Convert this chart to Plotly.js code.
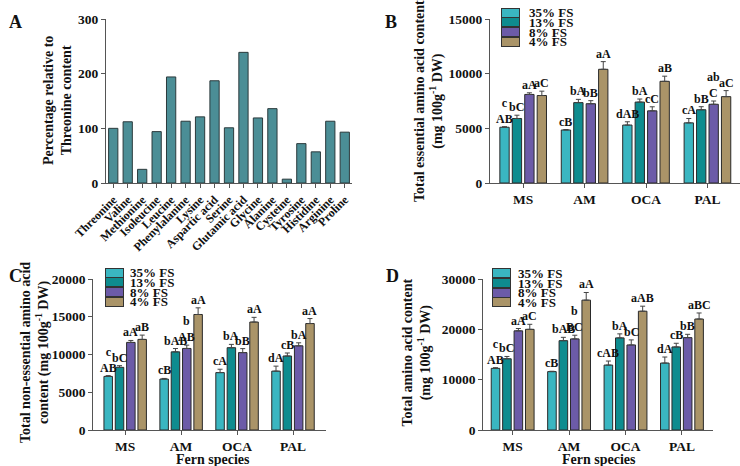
<!DOCTYPE html>
<html>
<head>
<meta charset="utf-8">
<script src="https://cdn.plot.ly/plotly-3.0.1.min.js"></script>
<style>html,body{margin:0;padding:0;background:#fff;}#chart{width:740px;height:466px;}</style>
</head>
<body>
<div id="chart"></div>
<script>
// ---------- Data ----------
const aminoAcids = ['Threonine','Valine','Methionine','Isoleucine','Leucine','Phenylalanine','Lysine',
  'Aspartic acid','Serine','Glutamic acid','Glycine','Alanine','Cysteine','Tyrosine','Histidine','Arginine','Proline'];
const pctOfThreonine = [100,112,25,94,194,113,121,187,101,239,119,136,7,72,57,113,93];

const species = ['MS','AM','OCA','PAL'];
const shadeLevels = ['35% FS','13% FS','8% FS','4% FS'];

// rows = shade level (35, 13, 8, 4 % FS); columns = species (MS, AM, OCA, PAL)
const essentialMean = [[5100,4850,5300,5500],[5900,7350,7400,6700],[8100,7250,6600,7200],[8000,10400,9300,7900]];
const essentialErr  = [[50,40,300,400],[300,300,280,280],[150,280,370,300],[400,700,470,550]];
const essentialLetters = [['c<br>AB','cB','dAB','cA'],['bC','bA','bA','bB'],['aA','bB','cC','ab<br>C'],['aC','aA','aB','aC']];

const nonEssentialMean = [[7100,6750,7600,7800],[8300,10350,10900,9800],[11600,10800,10250,11150],[12000,15300,14300,14100]];
const nonEssentialErr  = [[100,80,450,660],[220,440,440,400],[260,440,530,400],[570,880,620,660]];
const nonEssentialLetters = [['c<br>AB','cB','cA','dA'],['bC','bAB','bA','cB'],['aA','b<br>AB','bB','bA'],['aB','aA','aA','aA']];

const totalMean = [[12250,11600,12900,13300],[14150,17750,18300,16500],[19700,18100,16900,18350],[20000,25800,23600,22050]];
const totalErr  = [[130,70,800,1200],[460,660,800,730],[460,730,1000,660],[1000,1520,1000,1200]];
const totalLetters = [['c<br>AB','cB','cAB','dA'],['bC','bAB','bA','cB'],['aA','b<br>BC','bC','bB'],['aC','aA','aAB','aBC']];

// ---------- Style ----------
const shadeColors = ['#3ab6c1','#0e8c8f','#6c5ba8','#aa9468'];
const barA = '#4b8e96';
const serif = 'Liberation Serif, Times New Roman, serif';
const axisCol = '#555';
const W = 740, H = 466;
const px = v => v / W;
const py = v => 1 - v / H;

const bargap = 0.19, bargroupgap = 0.25;

const traces = [];
traces.push({
  type: 'bar', x: aminoAcids, y: pctOfThreonine, width: 0.64,
  marker: {color: barA, line: {color: '#2b3a3c', width: 1}},
  xaxis: 'x', yaxis: 'y', showlegend: false, hoverinfo: 'x+y'
});

const annotations = [];
function addPanel(ax, means, errs, letters) {
  const slot = (1 - bargap) / shadeLevels.length;
  shadeLevels.forEach((lvl, i) => {
    traces.push({
      type: 'bar', name: lvl, x: species, y: means[i],
      marker: {color: shadeColors[i], line: {color: '#2a2a2a', width: 1}},
      error_y: {type: 'data', symmetric: false, array: errs[i], arrayminus: errs[i].map(() => 0),
                color: '#444', thickness: 1, width: 2.5},
      xaxis: 'x' + ax, yaxis: 'y' + ax, showlegend: false
    });
    species.forEach((sp, j) => {
      annotations.push({
        xref: 'x' + ax, yref: 'y' + ax,
        x: j + (i - (shadeLevels.length - 1) / 2) * slot,
        y: means[i][j] + errs[i][j],
        text: letters[i][j], showarrow: false, yanchor: 'bottom', xanchor: 'center',
        font: {family: serif, size: 12, color: '#111', weight: 'bold'}, borderpad: 0
      });
    });
  });
}
addPanel(2, essentialMean, essentialErr, essentialLetters);
addPanel(3, nonEssentialMean, nonEssentialErr, nonEssentialLetters);
addPanel(4, totalMean, totalErr, totalLetters);

// custom compact legends
function addLegend(swatchX, textX, rowYs) {
  shadeLevels.forEach((lvl, i) => {
    annotations.push({xref: 'paper', yref: 'paper', x: px(swatchX), y: py(rowYs[i]), text: '&nbsp;&nbsp;&nbsp;',
      showarrow: false, width: 17, height: 8, bgcolor: shadeColors[i], bordercolor: '#333', borderwidth: 1,
      borderpad: 0, xanchor: 'center', yanchor: 'middle', font: {size: 6, color: shadeColors[i]}});
    annotations.push({xref: 'paper', yref: 'paper', x: px(textX), y: py(rowYs[i]), text: lvl,
      showarrow: false, xanchor: 'left', yanchor: 'middle',
      font: {family: serif, size: 13, color: '#111', weight: 'bold'}});
  });
}
addLegend(510.5, 527, [12.5, 22.3, 32.1, 41.9]);
addLegend(114, 128, [272.7, 282.4, 292.1, 301.8]);
addLegend(501, 516, [273.3, 283, 292.6, 302.2]);

// axis titles & panel letters
function txt(x, y, text, size, angle) {
  annotations.push({xref: 'paper', yref: 'paper', x: px(x), y: py(y), text: text, showarrow: false,
    textangle: angle || 0, xanchor: 'center', yanchor: 'middle',
    font: {family: serif, size: size, color: '#111', weight: 'bold'}});
}
txt(57, 101, 'Percentage relative to<br>Threonine content', 14, -90);
txt(429, 101, 'Total essential amino acid content<br>(mg 100g<sup>-1</sup> DW)', 14, -90);
txt(35, 353, 'Total non-essential amino acid<br>content (mg 100g<sup>-1</sup> DW)', 14, -90);
txt(416.5, 353, 'Total amino acid content<br>(mg 100g<sup>-1</sup> DW)', 14, -90);
txt(213, 459, 'Fern species', 14);
txt(599, 459, 'Fern species', 14);
txt(15, 22, 'A', 18);
txt(391, 22, 'B', 18);
txt(15, 276, 'C', 18);
txt(392, 276, 'D', 18);

function axisX(domain, range, tickfontSize, extra) {
  return Object.assign({domain: domain, range: range, showline: true, linecolor: axisCol, linewidth: 1,
    ticks: 'outside', ticklen: 4, tickwidth: 1, tickcolor: axisCol, showgrid: false, zeroline: false,
    tickfont: {family: serif, size: tickfontSize, color: '#111', weight: 'bold'}, fixedrange: true}, extra || {});
}
function axisY(domain, range, dtick, anchor) {
  return {domain: domain, range: range, dtick: dtick, tick0: 0, tickformat: 'd', anchor: anchor,
    showline: true, linecolor: axisCol, linewidth: 1, ticks: 'outside', ticklen: 4, tickwidth: 1,
    tickcolor: axisCol, showgrid: false, zeroline: false,
    tickfont: {family: serif, size: 13.5, color: '#111', weight: 'bold'}, fixedrange: true};
}

const yTop = [py(183), py(19)];
const yBot = [py(430), py(279)];

const layout = {
  width: W, height: H, margin: {l: 0, r: 0, t: 0, b: 0},
  paper_bgcolor: '#fff', plot_bgcolor: 'rgba(0,0,0,0)',
  barmode: 'group', bargap: bargap, bargroupgap: bargroupgap, showlegend: false,
  xaxis: axisX([px(106), px(352)], [-0.5, 16.5], 12, {tickangle: -45, anchor: 'y'}),
  yaxis: axisY(yTop, [0, 300], 100, 'x'),
  xaxis2: axisX([px(490), 1], [-0.54, 3.53], 13.5, {anchor: 'y2'}),
  yaxis2: axisY(yTop, [0, 15000], 5000, 'x2'),
  xaxis3: axisX([px(93.3), px(326)], [-0.57, 3.59], 13.5, {anchor: 'y3'}),
  yaxis3: axisY(yBot, [0, 20000], 5000, 'x3'),
  xaxis4: axisX([px(483.3), px(713)], [-0.52, 3.55], 13.5, {anchor: 'y4'}),
  yaxis4: axisY(yBot, [0, 30000], 10000, 'x4'),
  annotations: annotations
};

Plotly.newPlot('chart', traces, layout, {staticPlot: true, displayModeBar: false});
</script>
</body>
</html>
